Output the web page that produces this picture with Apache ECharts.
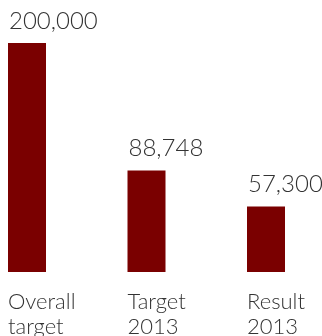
<!DOCTYPE html>
<html><head><meta charset="utf-8">
<script src="https://cdn.jsdelivr.net/npm/echarts@6/dist/echarts.min.js"></script>
<style>html,body{margin:0;padding:0;background:#fff}#c{width:322px;height:336px}</style>
</head><body><div id="c"></div>
<script>
const categories = ['Overall\ntarget', 'Target\n2013', 'Result\n2013'];
const values = [200000, 88748, 57300];

const FONT = 'Lato';
const chart = echarts.init(document.getElementById('c'), null, {renderer: 'canvas'});
chart.setOption({
  animation: false,
  grid: {left: 27, right: 56, top: 43, bottom: 64, outerBoundsMode: 'none', containLabel: false},
  xAxis: {
    type: 'category', data: categories, boundaryGap: false,
    axisLine: {show: false}, axisTick: {show: false}, splitLine: {show: false},
    axisLabel: {
      interval: 0, align: 'left', margin: 17,
      padding: [0, 0, 0, -19],
      color: '#333', fontFamily: FONT, fontWeight: 300, fontSize: 22, lineHeight: 25
    }
  },
  yAxis: {type: 'value', min: 0, max: 200000, show: false},
  series: [{
    type: 'bar', data: values, barWidth: 38,
    itemStyle: {color: '#7a0000'},
    label: {
      show: true, position: 'top', align: 'left', offset: [-18, 0],
      distance: 10,
      formatter: p => p.value.toLocaleString('en-US'),
      color: '#333', fontFamily: FONT, fontWeight: 300, fontSize: 24
    }
  }]
});
</script></body></html>
